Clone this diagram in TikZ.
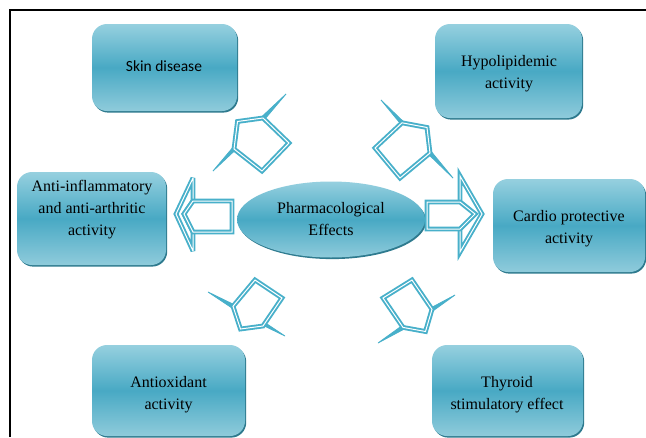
\documentclass[tikz,border=0pt]{standalone}
\usepackage{fontspec}
\setmainfont{Liberation Serif}
\newfontfamily\calfont{Carlito}
\usetikzlibrary{shapes.geometric,shadows}
\definecolor{aqmid}{HTML}{48A9C4}
\definecolor{aqtop}{HTML}{96D0DF}
\definecolor{aqbot}{HTML}{8FCBDB}
\definecolor{aqdark}{HTML}{2E7A8E}
\definecolor{arrc}{HTML}{48B0CA}
\begin{document}
\begin{tikzpicture}[x=1pt,y=-1pt,
  box/.style={rounded corners=15pt, top color=aqtop, bottom color=aqbot, middle color=aqmid, inner sep=0pt,
    general shadow={fill=aqdark, shadow xshift=1.2pt, shadow yshift=-1.6pt}},
  lbl/.style={align=center, font=\fontsize{16}{22}\selectfont, text=black, inner sep=0pt},
  arr/.style={draw=arrc, double=white, double distance=1pt, line width=1.9pt, fill=white, line join=miter, miter limit=4},
  spike/.style={fill=arrc, draw=arrc, line width=0.8pt, line join=miter}
]
\useasboundingbox (0,0) rectangle (646,437);
\fill[white] (0,0) rectangle (646,437);
\draw[line width=1.6pt] (10,437) -- (10,10) -- (646,10);

% boxes
\node[box, minimum width=145pt, minimum height=87pt] (skin) at (164.5,67.5) {};
\node[box, minimum width=147pt, minimum height=94pt] (hypo) at (508.5,71) {};
\node[box, minimum width=149pt, minimum height=93pt] (anti) at (91.5,218.5) {};
\node[box, minimum width=152pt, minimum height=93pt] (card) at (569,225.5) {};
\node[box, minimum width=153pt, minimum height=91pt] (aox) at (168.5,390.5) {};
\node[box, minimum width=151pt, minimum height=91pt] (thy) at (507.5,390.5) {};

% labels
\node[lbl, font=\calfont\fontsize{15.5}{22}\selectfont] (skint) at (164,66) {Skin disease};
\node[lbl] (hypot) at (509,73.5) {Hypolipidemic\\activity};
\node[lbl] (antit) at (92,210) {Anti-inflammatory\\and anti-arthritic\\activity};
\node[lbl] (cardt) at (569,229) {Cardio protective\\activity};
\node[lbl] (aoxt) at (168.5,395) {Antioxidant\\activity};
\node[lbl] (thyt) at (507,394.5) {Thyroid\\stimulatory effect};

% centre
\node[ellipse, minimum width=188pt, minimum height=76pt, inner sep=0pt, top color=aqtop, bottom color=aqbot, middle color=aqmid,
  general shadow={fill=aqdark, shadow xshift=1.2pt, shadow yshift=-1.6pt}, lbl] (pe) at (331,219.5) {Pharmacological\\Effects};

% left arrow
\draw[arr] (176,214) -- (193,178) -- (193,201) -- (184,214) -- (193,232) -- (193,251) -- cycle;
\draw[arr] (193,201) -- (184,214) -- (193,232) -- (232,232) -- (232,201) -- cycle;
% right arrow
\draw[arr] (482,214) -- (460,176) -- (460,202) -- (475,214) -- (460,229) -- (460,252) -- cycle;
\draw[arr] (460,202) -- (475,214) -- (460,229) -- (427,229) -- (427,202) -- cycle;
% upper-left arrow
\fill[spike] (213,171) -- (251.8,134.6) -- (286,94) -- (247.2,130.4) -- cycle;
\draw[arr] (234,149) -- (237.5,121.5) -- (263,118) -- (289,143) -- (262,171) -- cycle;
% upper-right arrow
\fill[spike] (381,100) -- (419.2,136.9) -- (453,178) -- (414.8,141.1) -- cycle;
\draw[arr] (402,122.8) -- (427,127.5) -- (430,153) -- (400,178) -- (375,148) -- cycle;
% lower-left arrow
\fill[spike] (208,292) -- (248,311.4) -- (285,336) -- (245,316.6) -- cycle;
\draw[arr] (233,306.3) -- (255,280) -- (282,298) -- (263,326) -- (240.5,329) -- cycle;
% lower-right arrow
\fill[spike] (378,343) -- (418.1,321.6) -- (455,295) -- (414.9,316.4) -- cycle;
\draw[arr] (383,298) -- (412,280) -- (432,309.3) -- (425.5,331.5) -- (403,327.4) -- cycle;
\end{tikzpicture}
\end{document}
